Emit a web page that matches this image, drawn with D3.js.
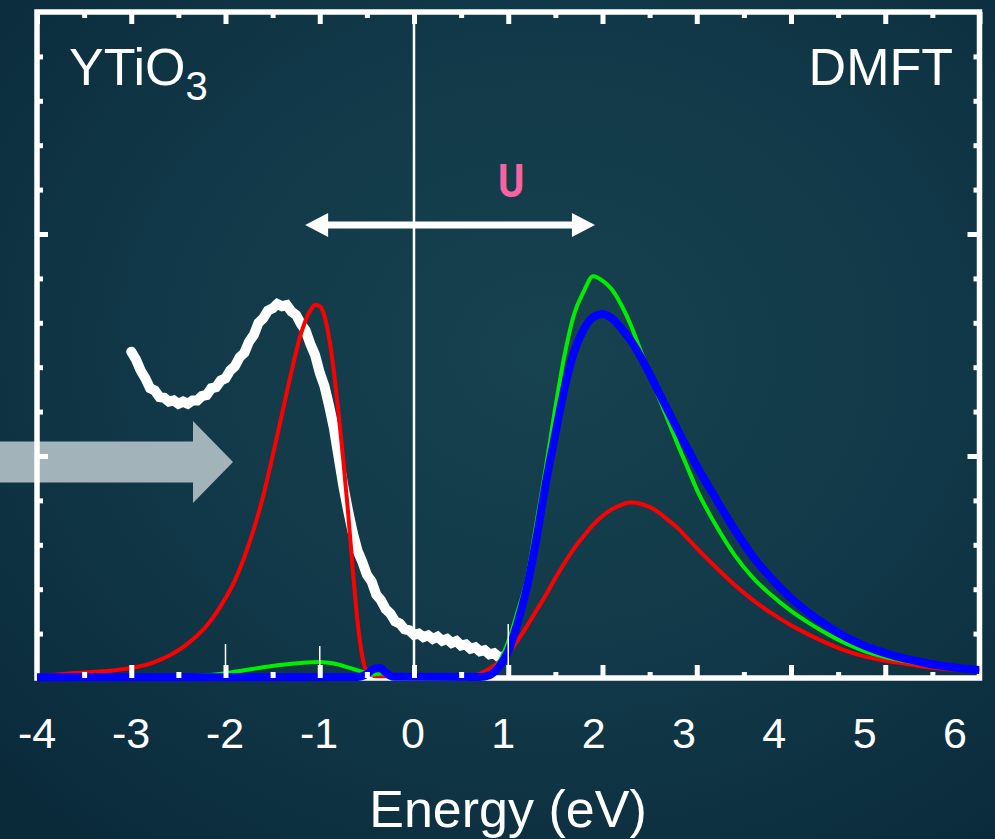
<!DOCTYPE html>
<html>
<head>
<meta charset="utf-8">
<script src="https://cdn.jsdelivr.net/npm/d3@7"></script>
<style>
  html, body { margin: 0; padding: 0; background: #0c3041; }
  svg { display: block; }
</style>
</head>
<body>
<svg id="chart" width="995" height="839"></svg>
<script>
// ---- data (energy in eV, spectral weight in arbitrary units) ----
const xTickValues = [-4, -3, -2, -1, 0, 1, 2, 3, 4, 5, 6];
const xTickLabels = ["-4", "-3", "-2", "-1", "0", "1", "2", "3", "4", "5", "6"];
const xMinorTicks = [-3.5, -2.5, -1.5, -0.5, 0.5, 1.5, 2.5, 3.5, 4.5, 5.5];
const yTickValues = [0, 1, 2, 3];
const yMinorTicks = [0.2, 0.4, 0.6, 0.8, 1.2, 1.4, 1.6, 1.8, 2.2, 2.4, 2.6, 2.8];
// thin marker lines rising from the energy axis: [energy, length in px]
const axisMarkers = [[-2, 30], [-1, 28], [1, 50]];

// photoemission spectrum (experiment)
const pesEnergy = [
  -3.00, -2.95, -2.90, -2.85, -2.80, -2.75, -2.70, -2.65, -2.60, -2.55,
  -2.50, -2.45, -2.40, -2.35, -2.30, -2.25, -2.20, -2.15, -2.10, -2.05,
  -2.00, -1.95, -1.90, -1.85, -1.80, -1.75, -1.70, -1.65, -1.60, -1.55,
  -1.50, -1.45, -1.40, -1.35, -1.30, -1.25, -1.20, -1.15, -1.10, -1.05,
  -1.00, -0.95, -0.90, -0.85, -0.80, -0.75, -0.70, -0.65, -0.60, -0.55,
  -0.50, -0.45, -0.40, -0.35, -0.30, -0.25, -0.20, -0.15, -0.10, -0.05,
   0.00,  0.05,  0.10,  0.15,  0.20,  0.25,  0.30,  0.35,  0.40,  0.45,
   0.50,  0.55,  0.60,  0.65,  0.70,  0.75,  0.80,  0.85,  0.90,  0.95
];
const pesIntensity = [
  1.47, 1.435, 1.385, 1.35, 1.305, 1.295, 1.265, 1.262, 1.245, 1.25,
  1.235, 1.245, 1.235, 1.25, 1.25, 1.27, 1.275, 1.305, 1.31, 1.34,
  1.35, 1.385, 1.405, 1.445, 1.465, 1.515, 1.545, 1.60, 1.62, 1.655,
  1.665, 1.685, 1.675, 1.68, 1.65, 1.635, 1.595, 1.565, 1.505, 1.455,
  1.375, 1.315, 1.225, 1.125, 0.995, 0.865, 0.755, 0.655, 0.575, 0.525,
  0.465, 0.435, 0.375, 0.35, 0.31, 0.29, 0.255, 0.245, 0.22, 0.215,
  0.195, 0.2, 0.184, 0.192, 0.176, 0.186, 0.168, 0.176, 0.158, 0.166,
  0.146, 0.151, 0.132, 0.138, 0.12, 0.125, 0.107, 0.112, 0.094, 0.097
];

// DMFT spectral functions
const redEnergy = [-4.0, -3.6, -3.2, -3.0, -2.8, -2.6, -2.4, -2.2, -2.0, -1.9, -1.8, -1.7, -1.6, -1.5,
  -1.4, -1.3, -1.2, -1.1, -1.05, -1.0, -0.95, -0.9, -0.85, -0.8, -0.75, -0.7, -0.65, -0.6, -0.55,
  -0.5, -0.4, 0.6, 0.7, 0.8, 0.9, 1.0, 1.1, 1.2, 1.3, 1.4, 1.5, 1.6, 1.7, 1.8, 1.9, 2.0, 2.1, 2.2,
  2.3, 2.4, 2.5, 2.6, 2.7, 2.8, 2.9, 3.0, 3.2, 3.4, 3.6, 3.8, 4.0, 4.2, 4.4, 4.6, 4.8, 5.0, 5.2,
  5.4, 5.6, 5.8, 6.0];
const redValues = [0.008, 0.022, 0.034, 0.045, 0.065, 0.10, 0.155, 0.235, 0.36, 0.44, 0.545, 0.67, 0.82, 1.0,
  1.19, 1.38, 1.55, 1.655, 1.68, 1.675, 1.63, 1.53, 1.38, 1.19, 0.98, 0.75, 0.49, 0.26, 0.10,
  0.03, 0.008, 0.008, 0.02, 0.042, 0.072, 0.11, 0.17, 0.235, 0.305, 0.375, 0.45, 0.52, 0.585,
  0.64, 0.69, 0.73, 0.76, 0.78, 0.79, 0.785, 0.77, 0.745, 0.71, 0.675, 0.63, 0.585, 0.50, 0.42,
  0.35, 0.29, 0.238, 0.193, 0.154, 0.12, 0.095, 0.078, 0.065, 0.052, 0.042, 0.037, 0.033];

const greenEnergy = [-4.0, -2.5, -2.2, -2.0, -1.8, -1.6, -1.4, -1.2, -1.0, -0.85, -0.7, -0.55, -0.45,
  -0.35, -0.25, 0.0, 0.7, 0.8, 0.9, 1.0, 1.1, 1.2, 1.3, 1.4, 1.5, 1.6, 1.7, 1.8, 1.9, 2.0, 2.1,
  2.2, 2.3, 2.4, 2.5, 2.6, 2.7, 2.8, 2.9, 3.0, 3.2, 3.4, 3.6, 3.8, 4.0, 4.2, 4.4, 4.6, 4.8, 5.0,
  5.2, 5.4, 5.6, 5.8, 6.0];
const greenValues = [0.004, 0.006, 0.012, 0.022, 0.035, 0.048, 0.06, 0.068, 0.072, 0.065, 0.048, 0.028,
  0.015, 0.02, 0.008, 0.003, 0.004, 0.015, 0.07, 0.165, 0.30, 0.45, 0.70, 0.95, 1.22, 1.46, 1.64,
  1.74, 1.81, 1.79, 1.75, 1.68, 1.59, 1.48, 1.37, 1.26, 1.155, 1.05, 0.95, 0.85, 0.69, 0.555,
  0.45, 0.37, 0.302, 0.245, 0.195, 0.152, 0.118, 0.094, 0.077, 0.062, 0.05, 0.042, 0.036];

const blueEnergy = [-4.0, -0.6, -0.5, -0.42, -0.36, -0.3, -0.22, 0.7, 0.8, 0.9, 1.0, 1.1, 1.2, 1.3,
  1.4, 1.5, 1.6, 1.7, 1.8, 1.9, 2.0, 2.1, 2.2, 2.3, 2.4, 2.5, 2.6, 2.7, 2.8, 2.9, 3.0, 3.2, 3.4,
  3.6, 3.8, 4.0, 4.2, 4.4, 4.6, 4.8, 5.0, 5.2, 5.4, 5.6, 5.8, 6.0];
const blueValues = [0.003, 0.004, 0.018, 0.042, 0.045, 0.025, 0.006, 0.004, 0.012, 0.05, 0.12, 0.25,
  0.41, 0.63, 0.88, 1.1, 1.31, 1.47, 1.57, 1.625, 1.64, 1.62, 1.575, 1.52, 1.45, 1.37, 1.285, 1.2,
  1.115, 1.035, 0.955, 0.81, 0.67, 0.545, 0.445, 0.36, 0.29, 0.23, 0.18, 0.142, 0.112, 0.088, 0.07,
  0.055, 0.044, 0.036];

// ---- layout ----
const svg = d3.select("#chart");
const W = 995, H = 839;
const frame = { left: 37, right: 979.5, top: 12, bottom: 678 };

const x = d3.scaleLinear().domain([-4, 6]).range([frame.left, frame.right]);
const y = d3.scaleLinear().domain([0, 3]).range([frame.bottom, frame.top]);
// energy labels sit on their own, slightly tighter spacing on the positive side
const xLabel = d3.scaleLinear().domain([-4, 0, 6]).range([37, 413, 955]);

// ---- background ----
const defs = svg.append("defs");
const bg = defs.append("radialGradient").attr("id", "bg")
  .attr("cx", "55%").attr("cy", "42%").attr("r", "75%");
bg.append("stop").attr("offset", "0%").attr("stop-color", "#17424f");
bg.append("stop").attr("offset", "55%").attr("stop-color", "#113848");
bg.append("stop").attr("offset", "100%").attr("stop-color", "#0a2a3a");
svg.append("rect").attr("width", W).attr("height", H).attr("fill", "url(#bg)");

defs.append("clipPath").attr("id", "plotClip")
  .append("rect")
  .attr("x", frame.left).attr("y", frame.top)
  .attr("width", frame.right - frame.left)
  .attr("height", frame.bottom - frame.top + 4);

// ---- pointer arrow at the left ----
const ga = { x0: 0, xb: 193, tip: 233, yc: 462, shaft: 20.5, head: 41 };
svg.append("path")
  .attr("d", `M${ga.x0},${ga.yc - ga.shaft} L${ga.xb},${ga.yc - ga.shaft} L${ga.xb},${ga.yc - ga.head}
    L${ga.tip},${ga.yc} L${ga.xb},${ga.yc + ga.head} L${ga.xb},${ga.yc + ga.shaft} L${ga.x0},${ga.yc + ga.shaft} Z`)
  .attr("fill", "#a2b3ba");

// ---- frame ----
svg.append("rect")
  .attr("x", frame.left).attr("y", frame.top)
  .attr("width", frame.right - frame.left)
  .attr("height", frame.bottom - frame.top)
  .attr("fill", "none").attr("stroke", "#ffffff").attr("stroke-width", 5.5);

// Fermi level
svg.append("line")
  .attr("x1", x(0)).attr("x2", x(0))
  .attr("y1", frame.top).attr("y2", frame.bottom)
  .attr("stroke", "#ffffff").attr("stroke-width", 2.5);

// ---- curves ----
const plot = svg.append("g").attr("clip-path", "url(#plotClip)");
const smooth = d3.line().x(d => x(d[0])).y(d => y(d[1])).curve(d3.curveMonotoneX);
const jagged = d3.line().x(d => x(d[0])).y(d => y(d[1])).curve(d3.curveLinear);

plot.append("path")
  .datum(d3.zip(pesEnergy, pesIntensity))
  .attr("d", jagged)
  .attr("fill", "none").attr("stroke", "#ffffff").attr("stroke-width", 10)
  .attr("stroke-linejoin", "miter").attr("stroke-linecap", "round");

[[redEnergy, redValues, "#ff0000", 4],
 [greenEnergy, greenValues, "#00ee00", 4],
 [blueEnergy, blueValues, "#0000ff", 8]].forEach(([e, v, c, w]) => {
  plot.append("path")
    .datum(d3.zip(e, v))
    .attr("d", smooth)
    .attr("fill", "none").attr("stroke", c).attr("stroke-width", w)
    .attr("stroke-linejoin", "round");
});

// ---- inward ticks on all four sides ----
function tickGroup(axis, tx, ty) {
  const g = svg.append("g").attr("transform", `translate(${tx},${ty})`).call(axis);
  g.select(".domain").remove();
  g.selectAll(".tick line").attr("stroke", "#ffffff").attr("stroke-width", 5);
  g.selectAll(".tick text").remove();
  return g;
}
tickGroup(d3.axisBottom(x).tickValues(xTickValues).tickSize(12).tickFormat(""), 0, frame.top);
tickGroup(d3.axisBottom(x).tickValues(xMinorTicks).tickSize(6).tickFormat(""), 0, frame.top);
tickGroup(d3.axisTop(x).tickValues(xTickValues.slice(1, -1)).tickSize(13).tickFormat(""), 0, frame.bottom);
tickGroup(d3.axisTop(x).tickValues(xMinorTicks).tickSize(6).tickFormat(""), 0, frame.bottom);
tickGroup(d3.axisRight(y).tickValues(yTickValues.slice(1, -1)).tickSize(11).tickFormat(""), frame.left, 0);
tickGroup(d3.axisRight(y).tickValues(yMinorTicks).tickSize(6).tickFormat(""), frame.left, 0);
tickGroup(d3.axisLeft(y).tickValues(yTickValues.slice(1, -1)).tickSize(12).tickFormat(""), frame.right, 0);
tickGroup(d3.axisLeft(y).tickValues(yMinorTicks).tickSize(6).tickFormat(""), frame.right, 0);

svg.append("g").selectAll("line").data(axisMarkers).join("line")
  .attr("x1", d => x(d[0])).attr("x2", d => x(d[0]))
  .attr("y1", frame.bottom - 4).attr("y2", d => frame.bottom - 4 - d[1])
  .attr("stroke", "#ffffff").attr("stroke-width", 1.5);

// ---- energy labels ----
const font = "'Liberation Sans', Arial, Helvetica, sans-serif";
svg.append("g").selectAll("text").data(xTickValues).join("text")
  .attr("x", d => xLabel(d)).attr("y", 748)
  .attr("text-anchor", "middle")
  .attr("font-family", font).attr("font-size", 43).attr("fill", "#ffffff")
  .text((d, i) => xTickLabels[i]);

svg.append("text")
  .attr("x", 508).attr("y", 827)
  .attr("text-anchor", "middle")
  .attr("font-family", font).attr("font-size", 52).attr("fill", "#ffffff")
  .text("Energy (eV)");

// ---- panel labels ----
const title = svg.append("text")
  .attr("x", 69).attr("y", 85)
  .attr("font-family", font).attr("font-size", 52).attr("fill", "#ffffff");
title.append("tspan").text("YTiO");
title.append("tspan").attr("font-size", 40).attr("dy", 15).text("3");

svg.append("text")
  .attr("x", 953).attr("y", 85)
  .attr("text-anchor", "end")
  .attr("font-family", font).attr("font-size", 52).attr("fill", "#ffffff")
  .text("DMFT");

// ---- Hubbard U double arrow ----
const uFrom = -1.155, uTo = 1.92, uLevel = 2.04;
const ay = y(uLevel), ax0 = x(uFrom), ax1 = x(uTo);
const headL = 23, headH = 12;
svg.append("line")
  .attr("x1", ax0 + headL - 2).attr("x2", ax1 - headL + 2)
  .attr("y1", ay).attr("y2", ay)
  .attr("stroke", "#ffffff").attr("stroke-width", 7);
svg.append("path")
  .attr("d", `M${ax0},${ay} L${ax0 + headL},${ay - headH} L${ax0 + headL},${ay + headH} Z`)
  .attr("fill", "#ffffff");
svg.append("path")
  .attr("d", `M${ax1},${ay} L${ax1 - headL},${ay - headH} L${ax1 - headL},${ay + headH} Z`)
  .attr("fill", "#ffffff");

svg.append("text")
  .attr("transform", `translate(${x(1.03)},197) scale(0.85,1)`)
  .attr("text-anchor", "middle")
  .attr("font-family", "Roboto, 'DejaVu Sans', sans-serif")
  .attr("font-weight", 700).attr("font-size", 47).attr("fill", "#fa62a4")
  .text("U");
</script>
</body>
</html>
